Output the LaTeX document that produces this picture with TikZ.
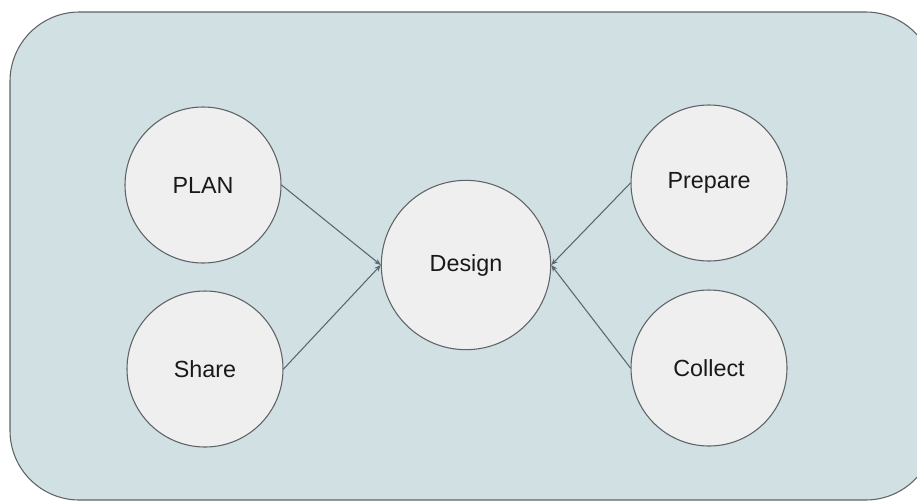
\documentclass[tikz,border=0pt]{standalone}
\usepackage{fontspec}
\setmainfont{Liberation Sans}
\usetikzlibrary{arrows.meta}

\definecolor{panelfill}{RGB}{208,224,227}
\definecolor{bubblefill}{RGB}{239,239,239}
\definecolor{edgegray}{RGB}{95,99,104}
\definecolor{linkgray}{RGB}{88,104,108}

\tikzset{every picture/.style={line width=0.75pt}}
\tikzset{
  bubble/.style={circle, draw=edgegray, fill=bubblefill, line width=0.8pt, inner sep=0pt, text=black!90, font=\fontsize{17.5}{19}\selectfont},
  link/.style={draw=linkgray, line width=0.8pt, -{Stealth[length=5pt,width=4pt]}}
}

\begin{document}
\begin{tikzpicture}[x=0.75pt,y=0.75pt,yscale=-1,xscale=1]
    \useasboundingbox (0,0) rectangle (917,501);
    \begin{scope}
    \clip (0,0) rectangle (917,501);
    %Shape: Rounded Rect [id:panel]
    \draw [draw=edgegray, fill=panelfill, line width=0.8pt, rounded corners=52pt] (10,12) rectangle (935,500);
    \end{scope}

    % Circles
    \node [bubble, minimum size=117pt] (plan) at (203,185) {PLAN};
    \node [bubble, minimum size=117pt] (share) at (205,369) {Share};
    \node [bubble, minimum size=127pt] (design) at (466,265) {Design};
    \node [bubble, minimum size=117pt] (prepare) at (709,183) {Prepare};
    \node [bubble, minimum size=117pt] (collect) at (709,368) {Collect};

    % Links
    \draw [link] (plan.east) -- (design.west);
    \draw [link] (share.east) -- (design.west);
    \draw [link] (prepare.west) -- (design.east);
    \draw [link] (collect.west) -- (design.east);

\end{tikzpicture}
\end{document}
